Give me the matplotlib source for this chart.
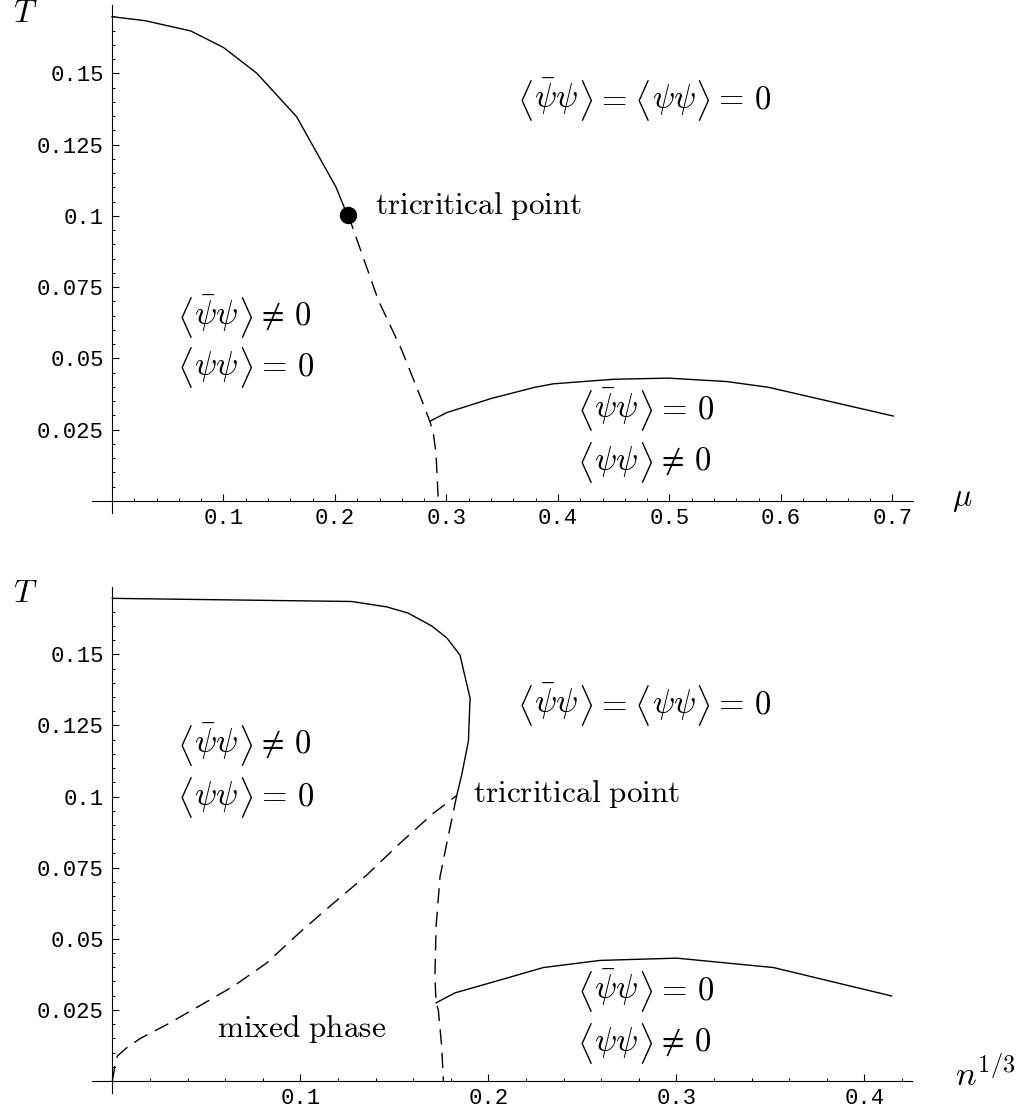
import matplotlib
matplotlib.use("Agg")
import matplotlib.pyplot as plt
from matplotlib.ticker import FixedLocator, FuncFormatter
from matplotlib.textpath import TextPath
from matplotlib.mathtext import MathTextParser
from matplotlib.font_manager import FontProperties
import numpy as np

plt.rcParams['mathtext.fontset'] = 'cm'

# ---------------- data: top panel (mu, T) ----------------
top_solid_mu = [0.0, 0.0296, 0.0706, 0.0999, 0.1298, 0.1656, 0.2009, 0.2105, 0.2117]
top_solid_T = [0.1699, 0.1685, 0.1649, 0.1591, 0.1501, 0.1348, 0.1101, 0.1009, 0.1005]
top_tricrit = (0.2117, 0.1005)
top_dash_mu = [0.2117, 0.2388, 0.2598, 0.2778, 0.2852, 0.2882, 0.2906, 0.2927]
top_dash_T = [0.1005, 0.0705, 0.0530, 0.0354, 0.0278, 0.0238, 0.0167, 0.0]
top_low_mu = [0.2852, 0.3002, 0.3405, 0.3794, 0.3958, 0.4496, 0.4989, 0.5513, 0.5886, 0.7007]
top_low_T = [0.0280, 0.0310, 0.0360, 0.0399, 0.0411, 0.0427, 0.0431, 0.0419, 0.0399, 0.0298]

# ---------------- data: bottom panel (n^{1/3}, T) ----------------
bot_solid_n = [0.0, 0.1273, 0.1460, 0.1574, 0.1699, 0.1779, 0.1849, 0.1903, 0.1894, 0.1858, 0.1832]
bot_solid_T = [0.1697, 0.1686, 0.1667, 0.1645, 0.1600, 0.1558, 0.1498, 0.1346, 0.1195, 0.1075, 0.1004]
bot_mix_n = [0.0, 0.0014, 0.0027, 0.0077, 0.0147, 0.0289, 0.0466, 0.0644, 0.0821, 0.0998,
             0.1176, 0.1353, 0.1530, 0.1707, 0.1832]
bot_mix_T = [0.0, 0.0053, 0.0088, 0.0117, 0.0149, 0.0198, 0.0265, 0.0333, 0.0415, 0.0523,
             0.0625, 0.0724, 0.0836, 0.0941, 0.1004]
bot_dash_n = [0.1832, 0.1779, 0.1743, 0.1722, 0.1716, 0.1722, 0.1734, 0.1752, 0.1761]
bot_dash_T = [0.1004, 0.0836, 0.0718, 0.0543, 0.0367, 0.0275, 0.0250, 0.0121, 0.0]
bot_low_n = [0.1722, 0.1823, 0.2062, 0.2293, 0.2594, 0.3002, 0.3516, 0.4145]
bot_low_T = [0.0275, 0.0310, 0.0355, 0.0399, 0.0424, 0.0432, 0.0399, 0.0299]

top_xticks = [0.1, 0.2, 0.3, 0.4, 0.5, 0.6, 0.7]
bot_xticks = [0.1, 0.2, 0.3, 0.4]
yticks = [0.025, 0.05, 0.075, 0.1, 0.125, 0.15]

W, H = 1026, 1116
fig = plt.figure(figsize=(W / 100, H / 100), dpi=100)

def box(l, t, r, b):
    return [l / W, 1 - b / H, (r - l) / W, (b - t) / H]

def fpos(x, y):
    return x / W, 1 - y / H

ax1 = fig.add_axes(box(92.3, 5, 913.3, 513.3))
ax2 = fig.add_axes(box(92.3, 586.7, 912.3, 1093.3))

ax1.set_xlim(-0.01767, 0.7187)
ax1.set_ylim(-0.00432, 0.1740)
ax2.set_xlim(-0.01064, 0.4255)
ax2.set_ylim(-0.00432, 0.1738)

fmt = FuncFormatter(lambda v, p: ('%g' % round(v, 4)))

def style(ax, xmaj, xmax):
    for s in ['top', 'right']:
        ax.spines[s].set_visible(False)
    ax.spines['left'].set_position(('data', 0))
    ax.spines['bottom'].set_position(('data', 0))
    for s in ['left', 'bottom']:
        ax.spines[s].set_linewidth(0.8)
    ax.xaxis.set_major_locator(FixedLocator(xmaj))
    xminor = [round(v, 3) for v in np.arange(0.02, xmax, 0.02) if all(abs(v - m) > 1e-6 for m in xmaj)]
    ax.xaxis.set_minor_locator(FixedLocator(xminor))
    ax.yaxis.set_major_locator(FixedLocator(yticks))
    yminor = [round(v, 3) for v in np.arange(0.005, 0.1725, 0.005) if all(abs(v - m) > 1e-6 for m in yticks)]
    ax.yaxis.set_minor_locator(FixedLocator(yminor))
    ax.xaxis.set_major_formatter(fmt)
    ax.yaxis.set_major_formatter(fmt)
    ax.tick_params(which='major', direction='in', length=4.7, width=0.8)
    ax.tick_params(which='minor', direction='in', length=2.4, width=0.7)
    ax.tick_params(axis='y', which='major', pad=6)
    ax.tick_params(axis='x', which='major', pad=5)
    for lab in ax.get_xticklabels() + ax.get_yticklabels():
        lab.set_fontfamily('Liberation Mono')
        lab.set_fontsize(16)
    ax.patch.set_visible(False)

style(ax1, top_xticks, 0.7205)
style(ax2, bot_xticks, 0.4255)

lw = 1.0
dash = (0, (11, 6))
# top panel
ax1.plot(top_solid_mu, top_solid_T, color='black', lw=lw)
ax1.plot(top_dash_mu, top_dash_T, color='black', lw=lw, linestyle=dash)
ax1.plot(top_low_mu, top_low_T, color='black', lw=lw)
ax1.plot([top_tricrit[0]], [top_tricrit[1]], 'o', color='black', markersize=11.5)
# bottom panel
ax2.plot(bot_solid_n, bot_solid_T, color='black', lw=lw)
ax2.plot(bot_mix_n, bot_mix_T, color='black', lw=lw, linestyle=dash)
ax2.plot(bot_dash_n, bot_dash_T, color='black', lw=lw, linestyle=dash)
ax2.plot(bot_low_n, bot_low_T, color='black', lw=lw)

# ---------------- text layout helpers ----------------
FS = 22.5          # text size (pt)
MS = 23.5          # math size (pt)
PX = 100 / 72.0
_parser = MathTextParser('path')

def ink(s, size):
    e = TextPath((0, 0), s, size=size * PX).get_extents()
    return e.x0, e.y0, e.x1, e.y1

def boxw(s, size):
    return _parser.parse(s, dpi=100, prop=FontProperties(size=size))[0]

_b0 = ink(r'$\langle$', 30)
BS = 30 * 42.0 / (_b0[3] - _b0[1])   # bracket size -> ~42 px tall

LB, RB = r'$\langle$', r'$\rangle$'
gaps = {('LB', 'c'): 2.5, ('c', 'RB'): 2.0, ('RB', 'r'): 12.0, ('r', 'LB'): 11.5}

def expr(x, yc, tokens):
    baseline = yc + 0.25 * MS * PX
    prev_ink_r = None
    prev_box_r = None
    prev = None
    for kind, s in tokens:
        size = BS if kind in ('LB', 'RB') else MS
        x0, y0, x1, y1 = ink(s, size)
        bw = boxw(s, size)
        if prev is None:
            xl = x
        else:
            xl = prev_ink_r + gaps.get((prev, kind), 4.0)
            xl = max(xl, prev_box_r + 0.8 + x0)
        base = yc + (y0 + y1) / 2.0 if kind in ('LB', 'RB') else baseline
        origin = xl - x0
        fig.text(*fpos(origin, base), s, fontsize=size, ha='left', va='baseline')
        prev_ink_r = xl + (x1 - x0)
        prev_box_r = origin + bw
        prev = kind

psibar = r'$\bar{\psi}\psi$'
psipsi = r'$\psi\psi$'
EQ = r'$=$'
EQ0 = r'$=\,0$'
NE0 = r'$\neq\,0$'

both0 = [('LB', LB), ('c', psibar), ('RB', RB), ('r', EQ), ('LB', LB), ('c', psipsi),
         ('RB', RB), ('r', EQ0)]
cneq = [('LB', LB), ('c', psibar), ('RB', RB), ('r', NE0)]
ceq = [('LB', LB), ('c', psibar), ('RB', RB), ('r', EQ0)]
deq = [('LB', LB), ('c', psipsi), ('RB', RB), ('r', EQ0)]
dneq = [('LB', LB), ('c', psipsi), ('RB', RB), ('r', NE0)]

tri = r'$\mathrm{tricritical\ point}$'
mixed = r'$\mathrm{mixed\ phase}$'

def t(x, y, s, size=FS):
    fig.text(*fpos(x, y), s, ha='left', va='center', fontsize=size)

# top panel text
t(13, 14, r'$T$', size=23)
t(952, 498, r'$\mu$', size=23)
expr(520, 100, both0)
t(375, 206, tri)
expr(180, 317, cneq)
expr(180, 367, deq)
expr(580, 410, ceq)
expr(580, 462, dneq)

# bottom panel text
t(13, 594, r'$T$', size=23)
t(955, 1075, r'$n^{1/3}$', size=25)
expr(520, 705, both0)
expr(180, 745, cneq)
expr(180, 797, deq)
t(473, 794, tri)
t(217, 1029, mixed)
expr(580, 991, ceq)
expr(580, 1043, dneq)

fig.savefig('out.png', dpi=100)
